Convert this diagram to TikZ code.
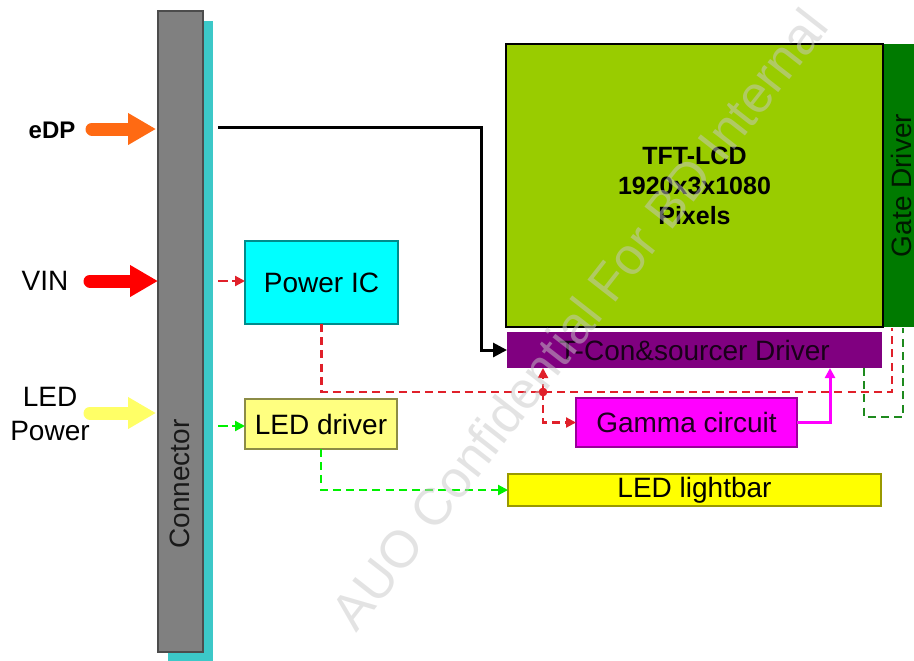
\documentclass[tikz,border=0pt]{standalone}
\usepackage{fontspec}
\setmainfont{Liberation Sans}
\usetikzlibrary{arrows.meta,calc}
\definecolor{tftgreen}{HTML}{99CC00}
\definecolor{gategreen}{HTML}{007A00}
\definecolor{tconpurple}{HTML}{800080}
\definecolor{gammamag}{HTML}{FF00FF}
\definecolor{barYellow}{HTML}{FFFF00}
\definecolor{drvYellow}{HTML}{FFFF80}
\definecolor{pwrCyan}{HTML}{00FFFF}
\definecolor{connGray}{HTML}{808080}
\definecolor{shadowCyan}{HTML}{3CC8C8}
\definecolor{edpOrange}{HTML}{FF6A13}
\definecolor{ledPowYellow}{HTML}{FFFF66}
\definecolor{dashRed}{HTML}{E0202A}
\definecolor{dashGreen}{HTML}{00F000}
\definecolor{dashDark}{HTML}{1E8A1E}
\definecolor{wmGray}{HTML}{C8C8C8}
\tikzset{
  txt/.style={font=\fontsize{14}{16}\selectfont},
  boxnode/.style={rectangle, inner sep=0pt, outer sep=0pt, txt, line width=0.6pt},
  fatarrow/.style={line width=6.5pt, line cap=round, -{Triangle[length=14pt,width=15pt]}},
  dashline/.style={line width=1.1pt, dash pattern=on 4pt off 2.6pt},
  smalltip/.style={-{Triangle[length=5pt,width=5pt]}}
}
\begin{document}
\begin{tikzpicture}[x=0.5pt,y=-0.5pt]
\useasboundingbox (0,0) rectangle (914,660);
\begin{scope}
\clip (0,0) rectangle (914,660);
% connector with shadow
\fill[shadowCyan] (168,21) rectangle (213,670);
\node[boxnode, fill=connGray, draw=black!70, minimum width=22.5pt, minimum height=320.5pt] (conn) at (180.5,331.5) {};
\node[txt, rotate=90, text=black!90] (conntext) at (180,484) {Connector};

% display
\node[boxnode, fill=gategreen, minimum width=141.5pt, minimum height=18pt, rotate=90, text=black!75!green!40!black] (gate) at (901,185.5) {Gate Driver};
\node[boxnode, fill=tftgreen, draw=black, line width=1pt, minimum width=188.5pt, minimum height=141.5pt, align=center,
      font=\bfseries\fontsize{12.5}{15}\selectfont] (tft) at (694.5,185.5) {TFT-LCD\\1920x3x1080\\Pixels};
\node[boxnode, fill=tconpurple, minimum width=187.5pt, minimum height=18pt, text=black!80!tconpurple] (tcon) at (694.5,350) {T-Con\&sourcer Driver};
\node[boxnode, fill=gammamag, draw=gammamag!60!black, minimum width=110.5pt, minimum height=24.5pt, text=black!75!tconpurple] (gamma) at (686.5,422.5) {Gamma circuit};
\node[boxnode, fill=barYellow, draw=black!40!barYellow, minimum width=186.5pt, minimum height=16pt] (bar) at (694.5,490) {LED lightbar};
\node[boxnode, fill=pwrCyan, draw=black!45!pwrCyan, minimum width=76.5pt, minimum height=41.5pt] (power) at (321.5,282.5) {Power IC};
\node[boxnode, fill=drvYellow, draw=black!45!drvYellow, minimum width=76pt, minimum height=25pt] (leddrv) at (321,424) {LED driver};

% input labels
\node[font=\bfseries\fontsize{12}{14}\selectfont] (edp) at (52,130) {eDP};
\node[txt] (vin) at (45,281) {VIN};
\node[txt, align=center, font=\fontsize{14}{17}\selectfont] (ledp) at (50,414) {LED\\Power};

% fat input arrows
\coordinate (edpA) at (92,129);
\coordinate (edpB) at (156,129);
\coordinate (vinA) at (90,281);
\coordinate (vinB) at (158,281);
\coordinate (ledA) at (90,413);
\coordinate (ledB) at (156,413);
\draw[fatarrow, edpOrange] (edpA) -- (edpB);
\draw[fatarrow, red] (vinA) -- (vinB);
\draw[fatarrow, ledPowYellow] (ledA) -- (ledB);

% eDP signal line
\coordinate (edpout) at (218,127);
\coordinate (edpbend) at (481,127);
\draw[line width=1.5pt, -{Triangle[length=7pt,width=7pt]}] (edpout) -- (edpbend) |- (tcon.west);

% small connector outputs
\coordinate (vinout) at (218,281);
\draw[dashRed, line width=1.1pt, dash pattern=on 5pt off 2pt, smalltip] (vinout) -- (vinout -| power.west);
\coordinate (ledout) at (218,426);
\draw[dashGreen, line width=1.1pt, dash pattern=on 5pt off 2pt, smalltip] (ledout) -- (ledout -| leddrv.west);

% red dashed from power IC
\coordinate (rcorner) at (892,392);
\coordinate (rtop) at (892,328);
\draw[dashline, dashRed] (power.south) |- (rcorner) -- (rtop);
\coordinate (j) at (543,392);
\fill[dashRed] (j) circle (2.2pt);
\draw[dashline, dashRed, smalltip] (j) -- (j |- tcon.south);
\draw[dashline, dashRed, smalltip] (j) |- (gamma.west);

% gamma to tcon
\coordinate (mtop) at ($(tcon.south)+(135.5,0)$);
\draw[gammamag, line width=1.5pt, smalltip] (gamma.east) -| (mtop);

% dark green dashed to gate driver
\coordinate (gstart) at ($(tcon.south)+(169.5,0)$);
\coordinate (gc1) at (864,417);
\coordinate (gc2) at (903,417);
\coordinate (gtop) at (903,328);
\draw[dashline, dashDark, line width=1.3pt] (gstart) -- (gc1) -- (gc2) -- (gtop);

% LED driver to lightbar
\draw[dashline, dashGreen, smalltip] (leddrv.south) |- (bar.west);

% watermark
\node[text=wmGray, text opacity=0.5, rotate=52, font=\fontsize{26}{30}\selectfont] (wm) at (579,319) {AUO Confidential For BD Internal};
\end{scope}
\end{tikzpicture}
\end{document}
